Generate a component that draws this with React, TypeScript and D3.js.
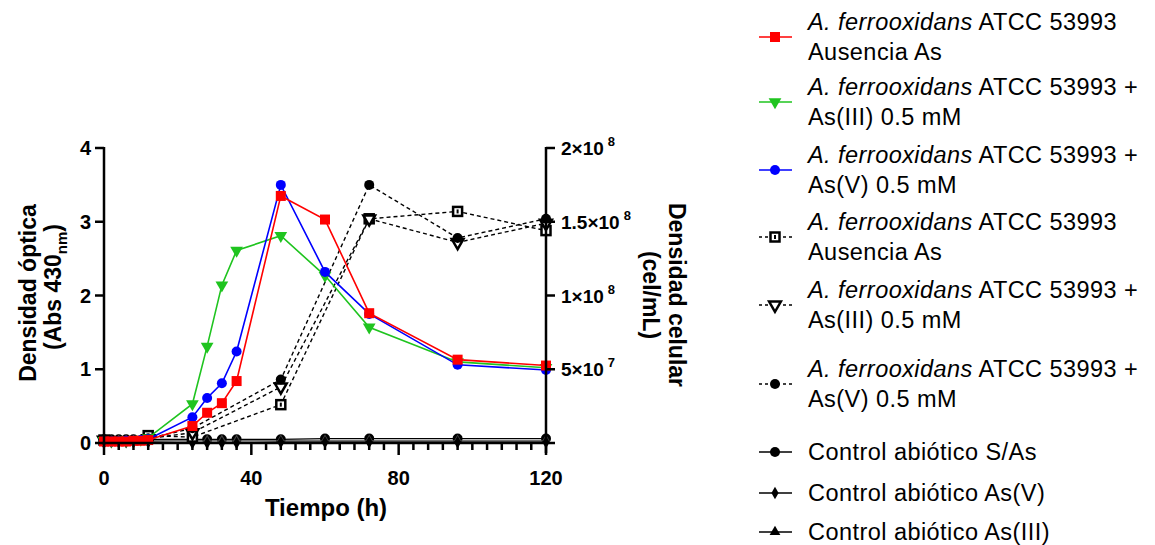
import React from "react";
import * as d3 from "d3";

const WIDTH = 1155;
const HEIGHT = 545;

// time points (h)
const timeOD = [0, 2, 4, 6, 8, 10, 12, 24, 28, 32, 36, 48, 60, 72, 96, 120];
const timeCell = [0, 12, 24, 48, 72, 96, 120];
const timeCtrl = [0, 2, 4, 6, 8, 12, 24, 28, 32, 36, 48, 60, 72, 96, 120];

// optical density (left axis)
const odAusencia = [0.02, 0.02, 0.02, 0.02, 0.03, 0.03, 0.04, 0.23, 0.41, 0.54, 0.84, 3.35, 3.03, 1.76, 1.13, 1.05];
const odAs3 = [0.03, 0.03, 0.03, 0.04, 0.04, 0.05, 0.07, 0.53, 1.31, 2.14, 2.61, 2.81, 2.27, 1.57, 1.1, 1.02];
const odAs5 = [0.02, 0.02, 0.02, 0.03, 0.03, 0.04, 0.05, 0.35, 0.61, 0.81, 1.24, 3.5, 2.32, 1.75, 1.06, 0.99];

// cell density (right axis)
const cellAusencia = [2e6, 5e6, 4e6, 2.6e7, 1.52e8, 1.57e8, 1.44e8];
const cellAs3 = [2e6, 3e6, 7e6, 3.8e7, 1.52e8, 1.36e8, 1.49e8];
const cellAs5 = [2e6, 3e6, 1e7, 4.3e7, 1.75e8, 1.39e8, 1.52e8];

// abiotic controls (left axis)
const ctrlSAs = [0.05, 0.05, 0.05, 0.05, 0.05, 0.05, 0.05, 0.05, 0.05, 0.05, 0.05, 0.06, 0.06, 0.06, 0.06];
const ctrlAs5 = [0.01, 0.01, 0.01, 0.01, 0.01, 0.01, 0.0, 0.0, 0.0, 0.0, 0.01, 0.01, 0.01, 0.01, 0.01];
const ctrlAs3 = [0.03, 0.03, 0.03, 0.03, 0.03, 0.03, 0.03, 0.03, 0.03, 0.03, 0.03, 0.03, 0.03, 0.03, 0.03];

const xTicks = [0, 40, 80, 120];
const xMinorTicks = d3.range(0, 121, 4);
const leftTicks = [0, 1, 2, 3, 4];
const rightTicks = [
  { v: 5e7, base: "5×10", exp: "7" },
  { v: 1e8, base: "1×10", exp: "8" },
  { v: 1.5e8, base: "1.5×10", exp: "8" },
  { v: 2e8, base: "2×10", exp: "8" },
];

const FONT = "Arial, 'Liberation Sans', sans-serif";

const x = d3.scaleLinear().domain([0, 120]).range([104, 546]);
const yL = d3.scaleLinear().domain([0, 4]).range([443, 148]);
const yR = d3.scaleLinear().domain([0, 2e8]).range([443, 148]);

type Marker = "square" | "triDown" | "circle" | "openSquare" | "openTriDown" | "diamond" | "triUp";

function MarkerShape({ type, cx, cy, color }: { type: Marker; cx: number; cy: number; color: string }) {
  const t = `translate(${cx},${cy})`;
  if (type === "square") return <rect x={cx - 5} y={cy - 5} width={10} height={10} fill={color} />;
  if (type === "circle") return <circle cx={cx} cy={cy} r={5} fill={color} />;
  if (type === "triDown")
    return <path transform={`${t} rotate(180)`} d={d3.symbol(d3.symbolTriangle, 70)()!} fill={color} />;
  if (type === "triUp") return <path transform={t} d={d3.symbol(d3.symbolTriangle, 50)()!} fill={color} />;
  if (type === "diamond") return <path transform={t} d={d3.symbol(d3.symbolDiamond, 45)()!} fill={color} />;
  if (type === "openSquare")
    return (
      <g>
        <rect x={cx - 4.5} y={cy - 4.5} width={9} height={9} fill="#fff" stroke={color} strokeWidth={2.5} />
        <rect x={cx - 1} y={cy - 2} width={2} height={4} fill={color} />
      </g>
    );
  // open inverted triangle
  return (
    <path
      transform={`${t} rotate(180)`}
      d={d3.symbol(d3.symbolTriangle, 60)()!}
      fill="#fff"
      stroke={color}
      strokeWidth={2.5}
    />
  );
}

function Series({
  xs,
  ys,
  yScale,
  color,
  marker,
  dashed,
  width = 1.6,
}: {
  xs: number[];
  ys: number[];
  yScale: d3.ScaleLinear<number, number>;
  color: string;
  marker: Marker;
  dashed?: boolean;
  width?: number;
}) {
  const pts = xs.map((t, i) => [x(t), yScale(ys[i])] as [number, number]);
  const line = d3.line();
  return (
    <g>
      <path d={line(pts)!} fill="none" stroke={color} strokeWidth={width} strokeDasharray={dashed ? "4,3" : undefined} />
      {pts.map((p, i) => (
        <MarkerShape key={i} type={marker} cx={p[0]} cy={p[1]} color={color} />
      ))}
    </g>
  );
}

const legendItems: { color: string; marker: Marker; dashed: boolean; l1: string; l2?: string; y: number }[] = [
  { color: "#ff0000", marker: "square", dashed: false, l1: " ATCC 53993", l2: "Ausencia As", y: 37 },
  { color: "#1fc41f", marker: "triDown", dashed: false, l1: " ATCC 53993 +", l2: "As(III) 0.5 mM", y: 102 },
  { color: "#0000ff", marker: "circle", dashed: false, l1: " ATCC 53993 +", l2: "As(V) 0.5 mM", y: 170 },
  { color: "#000", marker: "openSquare", dashed: true, l1: " ATCC 53993", l2: "Ausencia As", y: 237 },
  { color: "#000", marker: "openTriDown", dashed: true, l1: " ATCC 53993 +", l2: "As(III) 0.5 mM", y: 305 },
  { color: "#000", marker: "circle", dashed: true, l1: " ATCC 53993 +", l2: "As(V) 0.5 mM", y: 384 },
  { color: "#000", marker: "circle", dashed: false, l1: "Control abiótico S/As", y: 452 },
  { color: "#000", marker: "diamond", dashed: false, l1: "Control abiótico As(V)", y: 493 },
  { color: "#000", marker: "triUp", dashed: false, l1: "Control abiótico As(III)", y: 532 },
];

export default function App() {
  return (
    <svg
      width={WIDTH}
      height={HEIGHT}
      style={{ position: "absolute", left: 0, top: 0, background: "#fff" }}
      fontFamily={FONT}
    >
      {/* controls */}
      <Series xs={timeCtrl} ys={ctrlSAs} yScale={yL} color="#000" marker="circle" width={1.3} />
      <Series xs={timeCtrl} ys={ctrlAs3} yScale={yL} color="#444" marker="triUp" width={1.3} />
      <Series xs={timeCtrl} ys={ctrlAs5} yScale={yL} color="#000" marker="diamond" width={1.3} />

      {/* cell density, dashed */}
      <Series xs={timeCell} ys={cellAusencia} yScale={yR} color="#000" marker="openSquare" dashed width={1.4} />
      <Series xs={timeCell} ys={cellAs3} yScale={yR} color="#000" marker="openTriDown" dashed width={1.4} />
      <Series xs={timeCell} ys={cellAs5} yScale={yR} color="#000" marker="circle" dashed width={1.4} />

      {/* optical density */}
      <Series xs={timeOD} ys={odAs3} yScale={yL} color="#1fc41f" marker="triDown" />
      <Series xs={timeOD} ys={odAs5} yScale={yL} color="#0000ff" marker="circle" />
      <Series xs={timeOD} ys={odAusencia} yScale={yL} color="#ff0000" marker="square" />

      {/* x axis */}
      <g stroke="#000" strokeWidth={2.5}>
        <line x1={x(0) - 1.25} x2={x(120) + 1.25} y1={443} y2={443} />
        {xMinorTicks.map((t) => (
          <line key={t} x1={x(t)} x2={x(t)} y1={443} y2={xTicks.includes(t) ? 455 : 450} />
        ))}
      </g>
      {xTicks.map((t) => (
        <text key={t} x={x(t)} y={485} textAnchor="middle" fontSize={20} fontWeight="bold">
          {t}
        </text>
      ))}
      <text x={x(60) + 1} y={516} textAnchor="middle" fontSize={24} fontWeight="bold">
        Tiempo (h)
      </text>

      {/* left axis */}
      <g stroke="#000" strokeWidth={2.5}>
        <line x1={104} x2={104} y1={147} y2={445} />
        {leftTicks.map((t) => (
          <line key={t} x1={95} x2={104} y1={yL(t)} y2={yL(t)} />
        ))}
      </g>
      {leftTicks.map((t) => (
        <text key={t} x={91} y={yL(t) + 7} textAnchor="end" fontSize={20} fontWeight="bold">
          {t}
        </text>
      ))}
      <g transform={`translate(36,293) rotate(-90)`}>
        <text textAnchor="middle" fontSize={23} fontWeight="bold">
          Densidad óptica
        </text>
      </g>
      <g transform={`translate(61,287) rotate(-90)`}>
        <text textAnchor="middle" fontSize={23} fontWeight="bold">
          (Abs 430
          <tspan fontSize={15} dy={6}>
            nm
          </tspan>
          <tspan dy={-6}>)</tspan>
        </text>
      </g>

      {/* right axis */}
      <g stroke="#000" strokeWidth={2.5}>
        <line x1={546} x2={546} y1={147} y2={453} />
        {[0, ...rightTicks.map((r) => r.v)].map((v) => (
          <line key={v} x1={546} x2={555} y1={yR(v)} y2={yR(v)} />
        ))}
      </g>
      {rightTicks.map((r) => (
        <text key={r.v} x={561} y={yR(r.v) + 7} fontSize={19} fontWeight="bold">
          {r.base}
          <tspan fontSize={13} dx={4} dy={-9}>
            {r.exp}
          </tspan>
        </text>
      ))}
      <g transform={`translate(669,295) rotate(90)`}>
        <text textAnchor="middle" fontSize={23} fontWeight="bold">
          Densidad celular
        </text>
      </g>
      <g transform={`translate(643,295) rotate(90)`}>
        <text textAnchor="middle" fontSize={23} fontWeight="bold">
          (cel/mL)
        </text>
      </g>

      {/* legend */}
      {legendItems.map((it, i) => (
        <g key={i}>
          <line
            x1={759}
            x2={792}
            y1={it.y}
            y2={it.y}
            stroke={it.color}
            strokeWidth={1.5}
            strokeDasharray={it.dashed ? "3,3" : undefined}
          />
          <MarkerShape type={it.marker} cx={775} cy={it.y} color={it.color} />
          {it.l2 ? (
            <text fontSize={23.5} letterSpacing={0.45} fill="#000">
              <tspan x={808} y={it.y - 7}>
                <tspan fontStyle="italic">A. ferrooxidans</tspan>
                {it.l1}
              </tspan>
              <tspan x={808} y={it.y + 23}>
                {it.l2}
              </tspan>
            </text>
          ) : (
            <text x={808} y={it.y + 8} fontSize={23.5} letterSpacing={0.45} fill="#000">
              {it.l1}
            </text>
          )}
        </g>
      ))}
    </svg>
  );
}
